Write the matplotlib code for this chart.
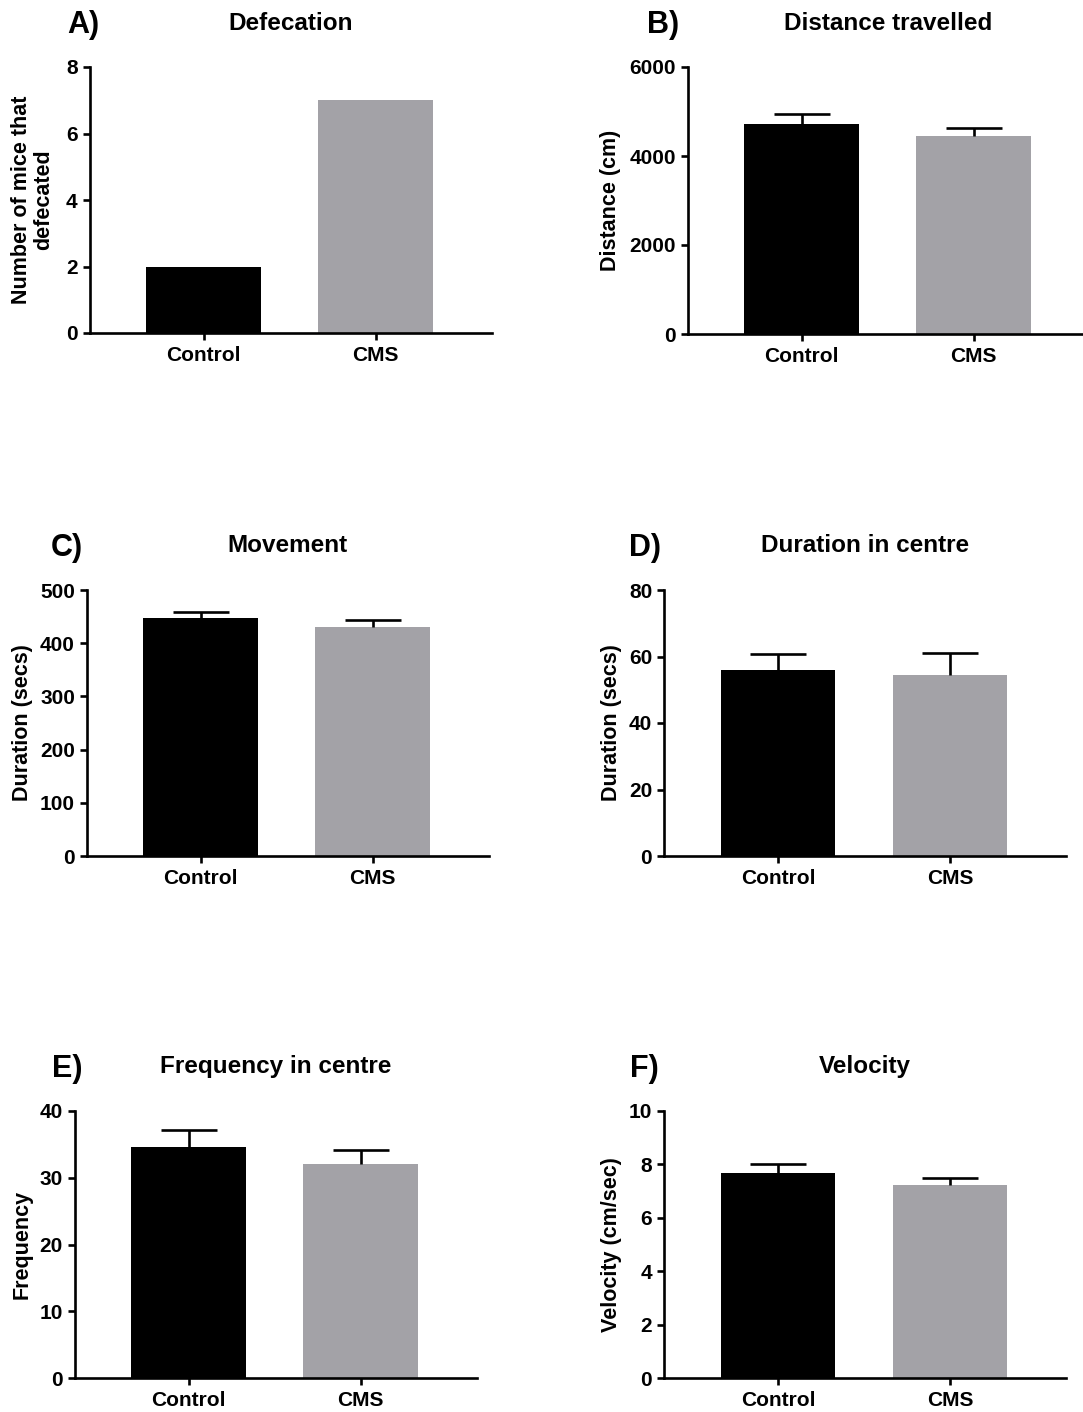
import matplotlib
matplotlib.use("Agg")
import matplotlib.pyplot as plt
import numpy as np

plt.rcParams['font.family'] = ['Liberation Sans', 'DejaVu Sans']
plt.rcParams['font.weight'] = 'bold'

# ---- data ----
categories = ['Control', 'CMS']

defecation = [2, 7]

distance_mean = [4720, 4440]
distance_sem = [225, 180]

movement_mean = [447, 431]
movement_sem = [12.5, 12]

centre_dur_mean = [55.8, 54.3]
centre_dur_sem = [5.1, 6.9]

centre_freq_mean = [34.6, 32.1]
centre_freq_sem = [2.6, 2.0]

velocity_mean = [7.67, 7.21]
velocity_sem = [0.36, 0.27]

bar_colors = ['#000000', '#a3a2a7']

W, H = 1083, 1412
fig = plt.figure(figsize=(W / 100, H / 100), dpi=100)


def px_axes(left, top, right, bottom):
    return fig.add_axes([left / W, 1 - bottom / H, (right - left) / W, (bottom - top) / H])


# letter, title, ylabel, means, errors, ymax, ystep, control-centre px, axis top, axis bottom, label offset, letter x
panels = [
    ('A)', 'Defecation', 'Number of mice that\ndefecated', defecation, None, 8, 2, 203.5, 67, 333, 57, 83),
    ('B)', 'Distance travelled', 'Distance (cm)', distance_mean, distance_sem, 6000, 2000, 801.5, 67, 334, 77, 663),
    ('C)', 'Movement', 'Duration (secs)', movement_mean, movement_sem, 500, 100, 200.7, 590, 856, 64, 67),
    ('D)', 'Duration in centre', 'Duration (secs)', centre_dur_mean, centre_dur_sem, 80, 20, 778, 590, 856, 53, 645),
    ('E)', 'Frequency in centre', 'Frequency', centre_freq_mean, centre_freq_sem, 40, 10, 188.7, 1111, 1378, 53, 67),
    ('F)', 'Velocity', 'Velocity (cm/sec)', velocity_mean, velocity_sem, 10, 2, 778, 1111, 1378, 53, 644),
]

spacing = 172.0
x_lo, x_hi = -114 / spacing, 1 + 116 / spacing
bar_w = 114.5 / spacing

for letter, title, ylabel, means, errs, ymax, ystep, ctrl_px, top, bottom, lab_off, letter_x in panels:
    left = ctrl_px + x_lo * spacing
    right = ctrl_px + x_hi * spacing
    ax = px_axes(left, top, right, bottom)
    x = np.arange(len(categories))
    ax.bar(x, means, width=bar_w, color=bar_colors, zorder=2)
    if errs is not None:
        # upper error bar only (SEM), no cap at the bar top
        eb = ax.errorbar(x, means, yerr=[np.zeros(len(errs)), errs], fmt='none',
                         ecolor='black', elinewidth=1.9, capsize=20, capthick=1.9, zorder=3)
        eb[1][0].set_visible(False)
    ax.set_xlim(x_lo, x_hi)
    ax.set_ylim(0, ymax)
    ax.set_yticks(np.arange(0, ymax + ystep / 2, ystep))
    ax.set_xticks(x)
    ax.set_xticklabels(categories)
    for s in ['top', 'right']:
        ax.spines[s].set_visible(False)
    for s in ['left', 'bottom']:
        ax.spines[s].set_linewidth(1.9)
    ax.tick_params(axis='both', width=1.9, length=5, labelsize=15, pad=3.5)
    ax.tick_params(axis='x', pad=4.5)
    for lab in ax.get_xticklabels() + ax.get_yticklabels():
        lab.set_fontweight('bold')
    ax.set_ylabel(ylabel, fontsize=15.5, fontweight='bold', va='center', linespacing=1.05)
    ax.yaxis.set_label_coords(-lab_off / (right - left), 0.5)

    # title and panel letter
    fig.text(((left + right) / 2) / W, 1 - (top - 44) / H, title, ha='center', va='center',
             fontsize=17.5, fontweight='bold')
    fig.text(letter_x / W, 1 - (top - 42) / H, letter, ha='center', va='center',
             fontsize=22, fontweight='bold')

fig.savefig('out.png', dpi=100)
